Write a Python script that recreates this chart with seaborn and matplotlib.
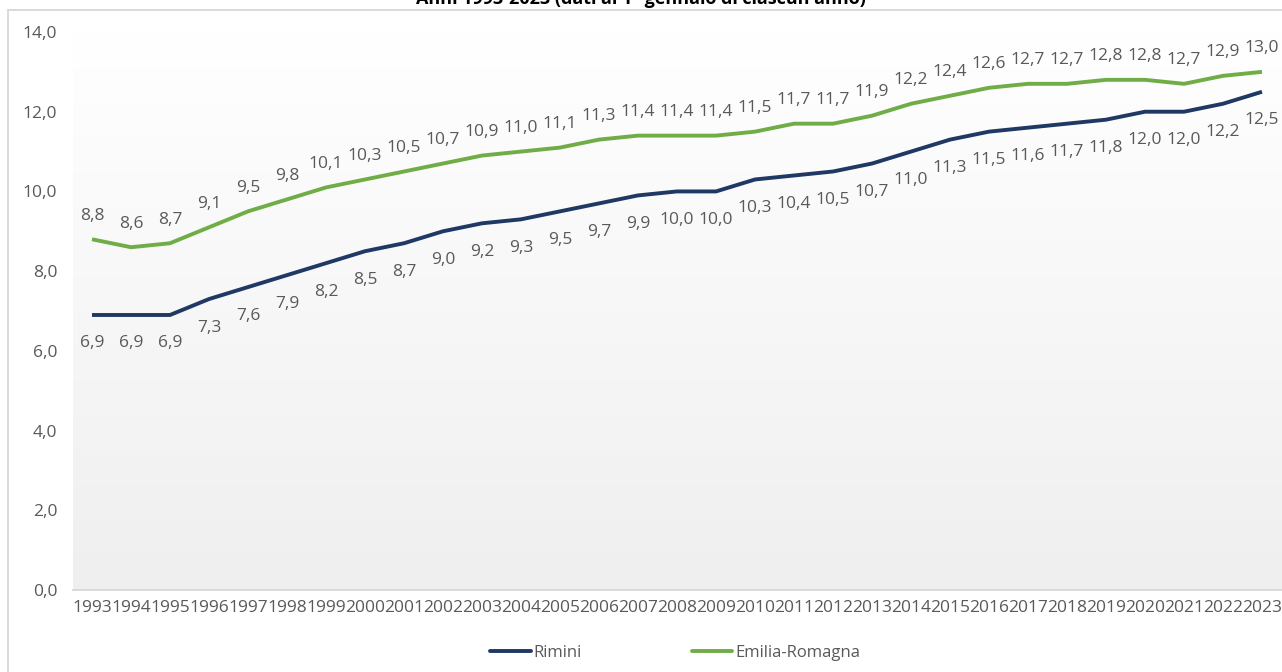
import numpy as np
import pandas as pd
import matplotlib
matplotlib.use("Agg")
import matplotlib.pyplot as plt
from matplotlib.colors import LinearSegmentedColormap
from matplotlib.patches import Rectangle
from matplotlib.lines import Line2D
import seaborn as sns

years = [str(y) for y in range(1993, 2024)]
rimini = [6.9, 6.9, 6.9, 7.3, 7.6, 7.9, 8.2, 8.5, 8.7, 9.0, 9.2, 9.3, 9.5, 9.7, 9.9,
          10.0, 10.0, 10.3, 10.4, 10.5, 10.7, 11.0, 11.3, 11.5, 11.6, 11.7, 11.8,
          12.0, 12.0, 12.2, 12.5]
emilia = [8.8, 8.6, 8.7, 9.1, 9.5, 9.8, 10.1, 10.3, 10.5, 10.7, 10.9, 11.0, 11.1,
          11.3, 11.4, 11.4, 11.4, 11.5, 11.7, 11.7, 11.9, 12.2, 12.4, 12.6, 12.7,
          12.7, 12.8, 12.8, 12.7, 12.9, 13.0]
series_names = ["Rimini", "Emilia-Romagna"]
title = "Anni 1993-2023 (dati al 1° gennaio di ciascun anno)"
y_ticks = [0, 2, 4, 6, 8, 10, 12, 14]

colors = {"Rimini": "#1f3864", "Emilia-Romagna": "#70ad47"}
text_gray = "#595959"
fs = 12.5

sns.set_theme(style="white")
plt.rcParams["font.family"] = ["Open Sans", "DejaVu Sans"]

df = pd.DataFrame({
    "pos": list(range(len(years))) * 2,
    "value": rimini + emilia,
    "area": [series_names[0]] * len(years) + [series_names[1]] * len(years),
})

W, H = 1282, 672
fig = plt.figure(figsize=(W / 100, H / 100), dpi=100)
fig.patch.set_facecolor("white")

left, right = 72.5, 1281.5
top, bottom = 32, 590
ax = fig.add_axes([left / W, (H - bottom) / H, (right - left) / W, (bottom - top) / H])

# soft vertical gradient behind the plot area
grad = np.linspace(0, 1, 256).reshape(-1, 1)
cmap = LinearSegmentedColormap.from_list("bg", ["#efefef", "#ffffff"])
ax.imshow(grad, extent=[-0.5, len(years) - 0.5, 0, 14], origin="lower",
          aspect="auto", cmap=cmap, zorder=0, interpolation="bilinear")

sns.lineplot(data=df, x="pos", y="value", hue="area", palette=colors,
             linewidth=2.8, ax=ax, legend=False, zorder=3)
for line in ax.lines:
    line.set_solid_capstyle("butt")
    line.set_solid_joinstyle("round")

fmt = lambda v: f"{v:.1f}".replace(".", ",")
for i, v in enumerate(emilia):
    ax.annotate(fmt(v), (i, v), xytext=(0, 17), textcoords="offset points",
                ha="center", va="center", fontsize=fs, color=text_gray)
for i, v in enumerate(rimini):
    ax.annotate(fmt(v), (i, v), xytext=(0, -20.5), textcoords="offset points",
                ha="center", va="center", fontsize=fs, color=text_gray)

ax.set_xlim(-0.5, len(years) - 0.5)
ax.set_ylim(0, 14)
ax.set_xticks(range(len(years)))
ax.set_xticklabels(years)
ax.set_yticks(y_ticks)
ax.set_yticklabels([fmt(t) for t in y_ticks])
ax.tick_params(axis="both", length=0, labelsize=fs, labelcolor=text_gray)
ax.tick_params(axis="y", pad=11)
ax.tick_params(axis="x", pad=7)
ax.set_xlabel("")
ax.set_ylabel("")
for s in ["top", "right", "left"]:
    ax.spines[s].set_visible(False)
ax.spines["bottom"].set_color("#d9d9d9")
ax.spines["bottom"].set_linewidth(1.4)
ax.grid(False)

# chart frame
fig.patches.append(Rectangle((8 / W, -0.05), 1.1, (H - 10) / H + 0.05,
                             transform=fig.transFigure, fill=False,
                             edgecolor="#d9d9d9", linewidth=1.4, zorder=0))

fig.text(641 / W, 1 - 4 / H, title, ha="center", va="baseline",
         fontsize=13, fontweight="bold", color="black")

handles = [Line2D([], [], color=colors[n], linewidth=2.8) for n in series_names]
fig.legend(handles, series_names, loc="center", bbox_to_anchor=(675 / W, 1 - 653 / H),
           ncol=2, frameon=False, fontsize=12, labelcolor=text_gray,
           handlelength=2.45, handletextpad=0.15, columnspacing=6.6)

fig.savefig("out.png", dpi=100)
